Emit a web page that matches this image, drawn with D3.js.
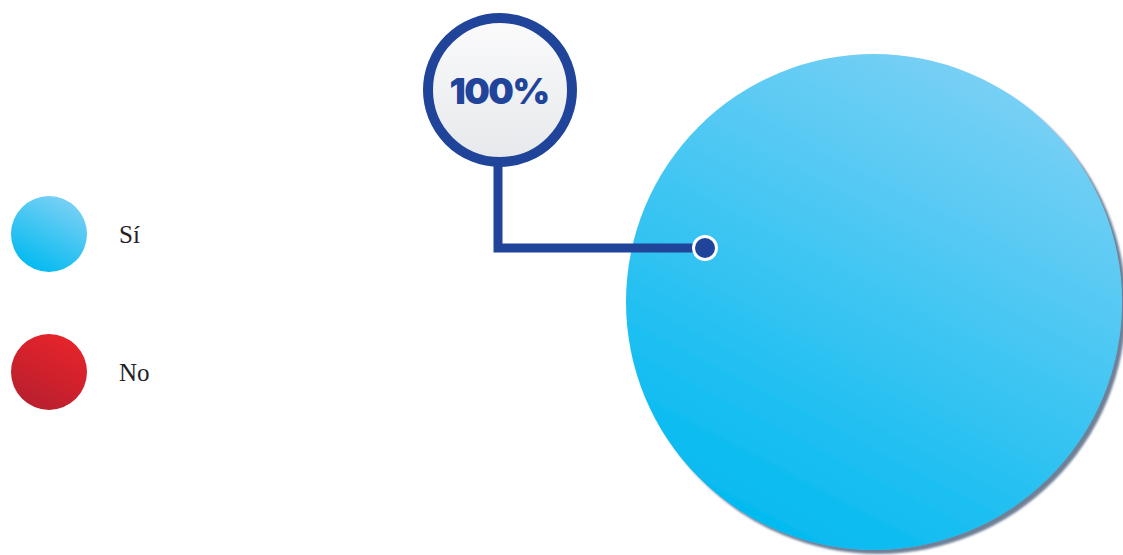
<!DOCTYPE html>
<html>
<head>
<meta charset="utf-8">
<script src="https://cdn.jsdelivr.net/npm/d3@7"></script>
<style>
  html, body { margin: 0; padding: 0; background: #ffffff; }
  svg { display: block; }
</style>
</head>
<body>
<svg id="chart" width="1123" height="555"></svg>
<script>
// Survey answers and their shares (percent)
const categories = ["Sí", "No"];
const values = [100, 0];
const labelText = ["100%", ""];

const svg = d3.select("#chart");
const defs = svg.append("defs");

// Gradients for each answer
const gradStops = {
  "Sí": ["#7fd1f5", "#02baf0"],
  "No": ["#e8242b", "#b91f2e"]
};
categories.forEach((c, i) => {
  const g = defs.append("linearGradient")
    .attr("id", "grad" + i)
    .attr("x1", "0.8").attr("y1", "0.02")
    .attr("x2", "0.3").attr("y2", "0.98");
  g.append("stop").attr("offset", "0%").attr("stop-color", gradStops[c][0]);
  g.append("stop").attr("offset", "100%").attr("stop-color", gradStops[c][1]);
});

const bubbleGrad = defs.append("linearGradient")
  .attr("id", "bubbleGrad").attr("x1", 0).attr("y1", 0).attr("x2", 0).attr("y2", 1);
bubbleGrad.append("stop").attr("offset", "0%").attr("stop-color", "#fbfbfc");
bubbleGrad.append("stop").attr("offset", "100%").attr("stop-color", "#e6e8eb");

const shadow = defs.append("filter").attr("id", "pieShadow")
  .attr("x", "-10%").attr("y", "-10%").attr("width", "125%").attr("height", "125%");
shadow.append("feDropShadow")
  .attr("dx", 4).attr("dy", 4).attr("stdDeviation", 1.2)
  .attr("flood-color", "#556a85").attr("flood-opacity", 0.85);

// Pie
const cx = 874, cy = 302, radius = 248;
const pie = d3.pie().sort(null).value(d => d.value);
const arc = d3.arc().innerRadius(0).outerRadius(radius);
const data = categories.map((c, i) => ({ name: c, value: values[i], idx: i }));

const pieG = svg.append("g").attr("transform", `translate(${cx},${cy})`);
pieG.selectAll("path")
  .data(pie(data).filter(d => d.data.value > 0))
  .join("path")
  .attr("d", arc)
  .attr("fill", d => `url(#grad${d.data.idx})`)
  .attr("filter", "url(#pieShadow)");

// Callout for the leading answer
const callColor = "#1f449a";
const dot = { x: cx - 169, y: cy - 54 };
const bubble = { x: 500, y: 90, r: 72 };

const callG = svg.append("g");
callG.append("path")
  .attr("d", d3.line()([
    [bubble.x - 2, bubble.y + bubble.r],
    [bubble.x - 2, dot.y],
    [dot.x, dot.y]
  ]))
  .attr("fill", "none")
  .attr("stroke", callColor)
  .attr("stroke-width", 9)
  .attr("stroke-linejoin", "miter");

callG.append("circle")
  .attr("cx", dot.x).attr("cy", dot.y).attr("r", 11.5)
  .attr("fill", callColor)
  .attr("stroke", "#ffffff").attr("stroke-width", 3);

callG.append("circle")
  .attr("cx", bubble.x).attr("cy", bubble.y).attr("r", bubble.r)
  .attr("fill", "url(#bubbleGrad)")
  .attr("stroke", callColor).attr("stroke-width", 10);

callG.append("text")
  .attr("x", bubble.x - 1).attr("y", bubble.y + 14)
  .attr("text-anchor", "middle")
  .attr("font-family", "Inter, 'Open Sans', sans-serif")
  .attr("font-weight", 900)
  .attr("font-size", 36)
  .attr("letter-spacing", -1.5)
  .attr("fill", callColor)
  .text(labelText[0]);

// Legend
const legendY = d3.scalePoint().domain(categories).range([234, 372]);
const legend = svg.append("g");
const items = legend.selectAll("g").data(data).join("g")
  .attr("transform", d => `translate(49,${legendY(d.name)})`);
items.append("circle")
  .attr("r", 38)
  .attr("fill", d => `url(#grad${d.idx})`);
items.append("text")
  .attr("x", 70).attr("y", 9)
  .attr("font-family", "'Liberation Serif', 'DejaVu Serif', serif")
  .attr("font-size", 25)
  .attr("fill", "#222")
  .text(d => d.name);
</script>
</body>
</html>
